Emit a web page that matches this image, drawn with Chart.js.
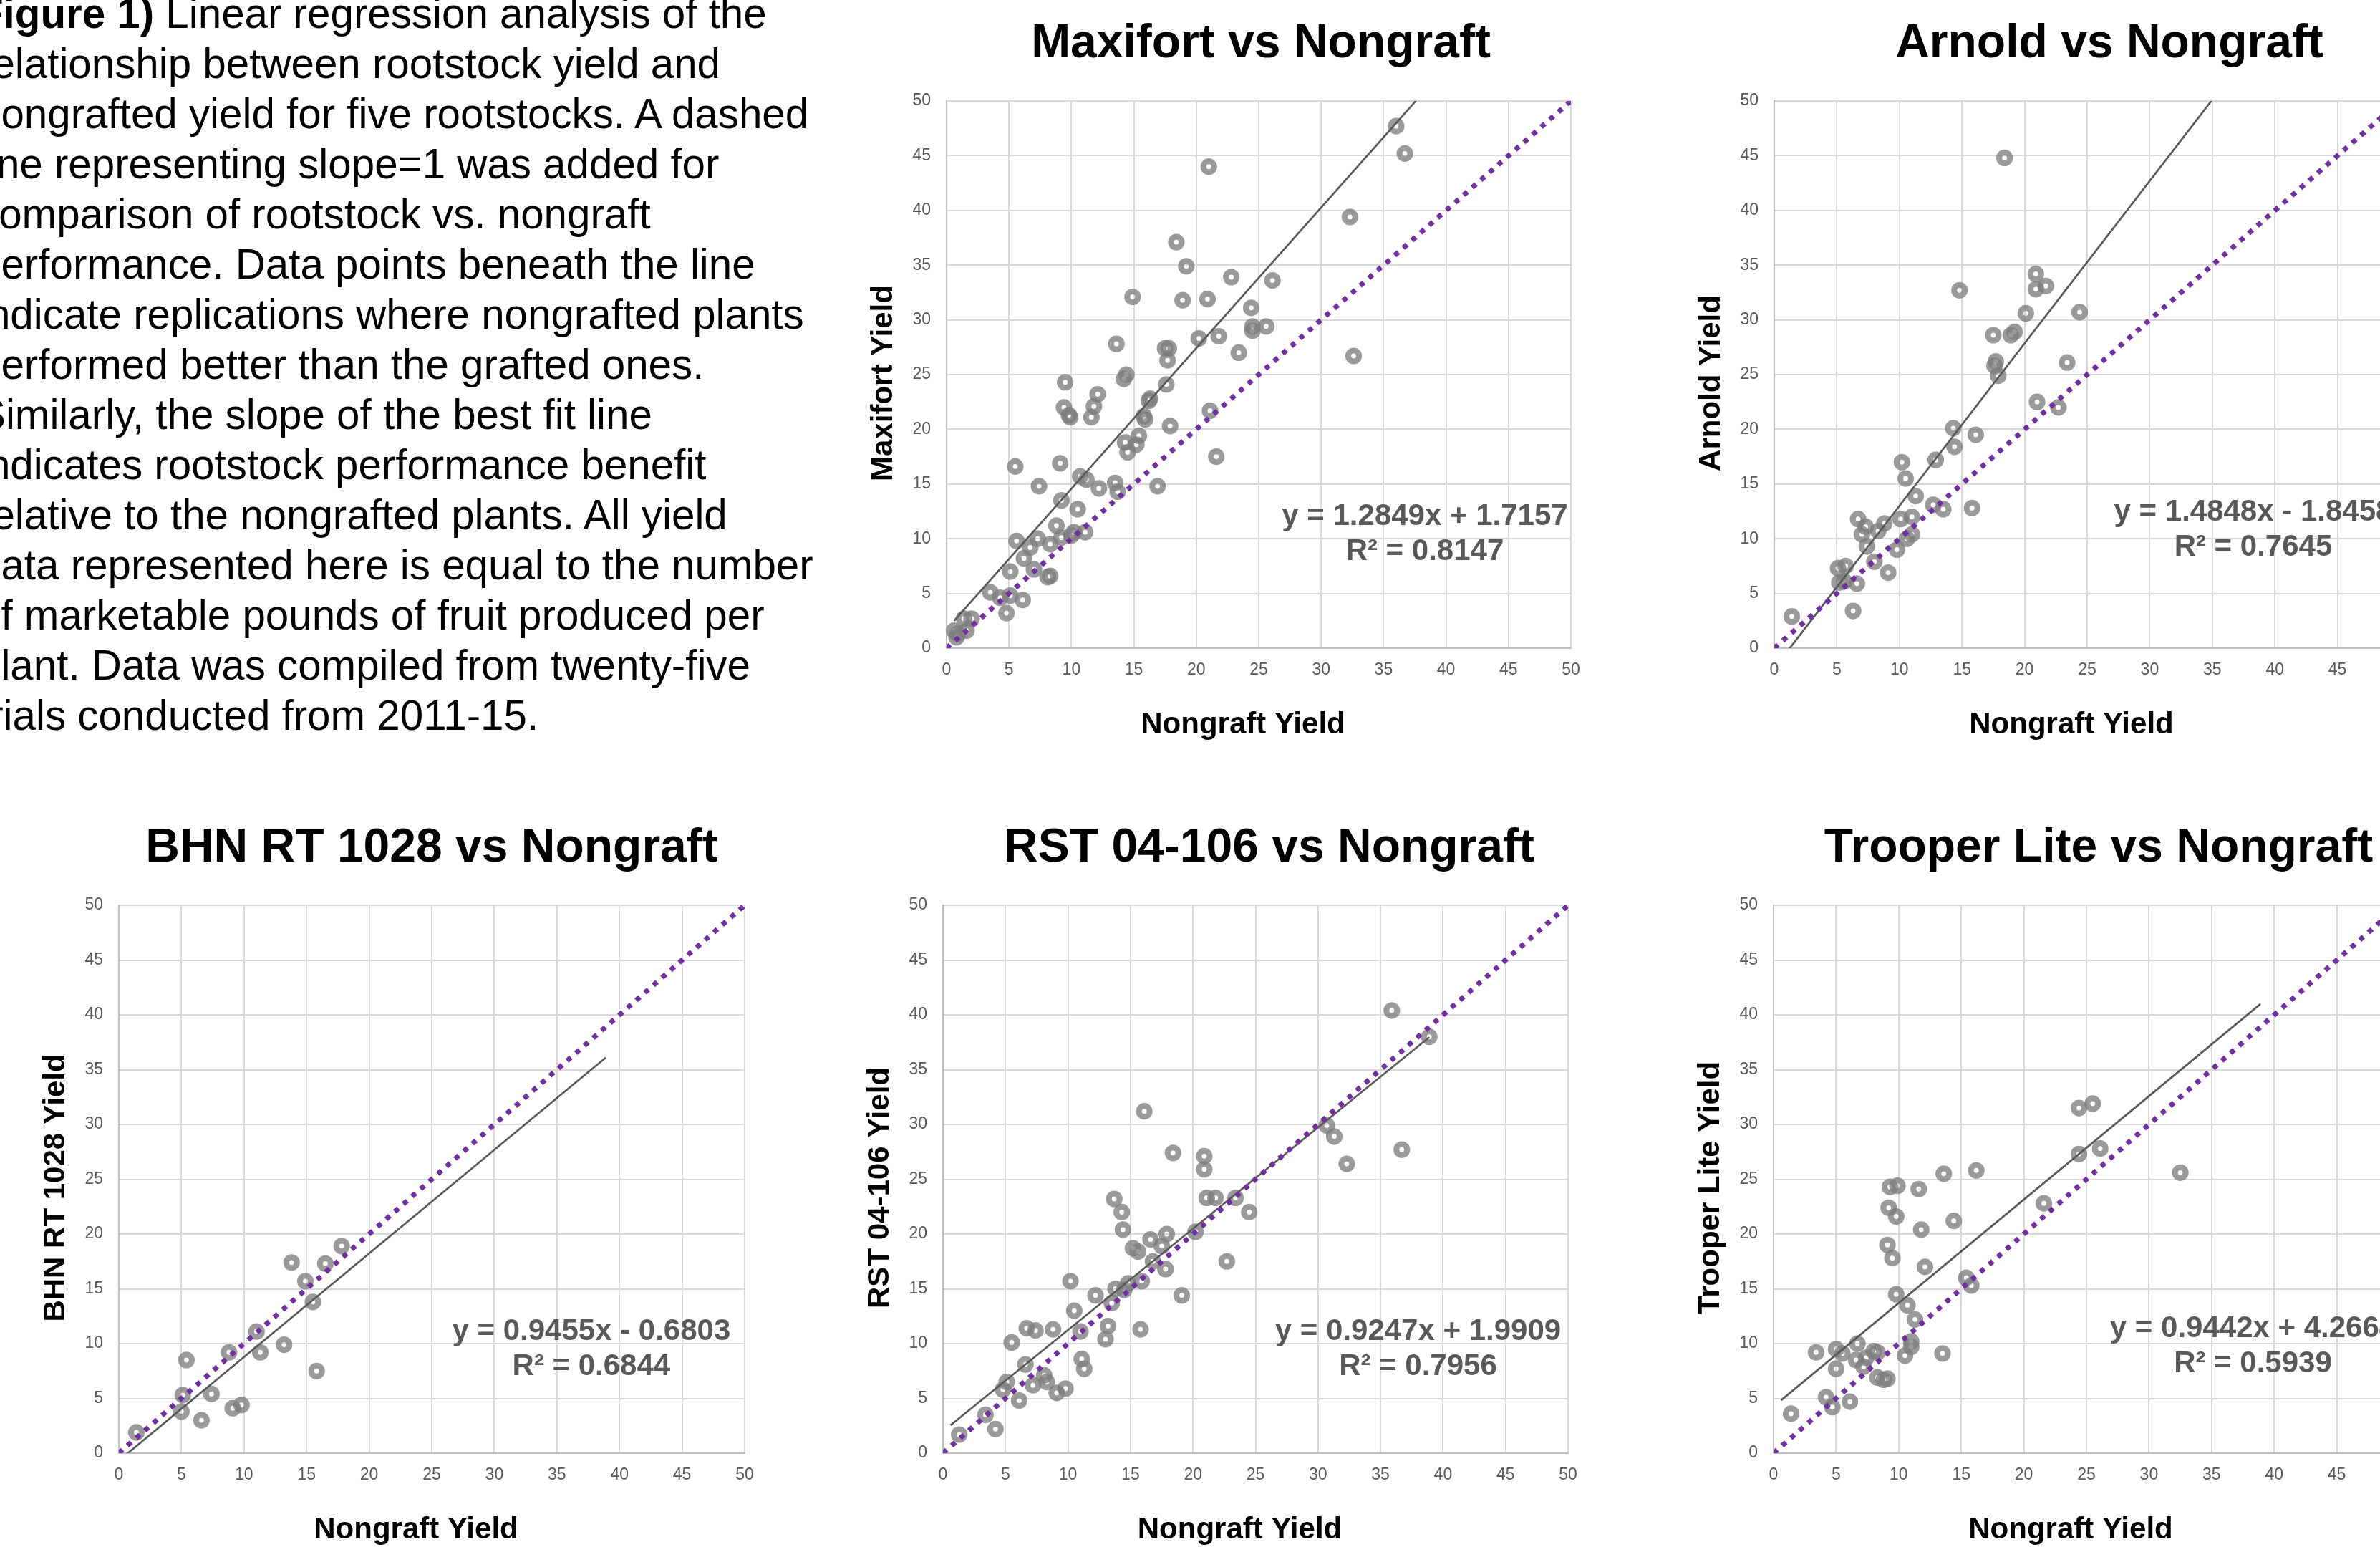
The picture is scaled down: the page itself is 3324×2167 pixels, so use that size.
<!DOCTYPE html>
<html>
<head>
<meta charset="utf-8">
<script src="https://cdn.jsdelivr.net/npm/chart.js@4.4.1/dist/chart.umd.min.js"></script>
<style>
html,body{margin:0;padding:0;width:3324px;height:2167px;overflow:hidden;background:#fff;position:relative}
#caption{position:absolute;left:-31px;top:-16px;font-family:"Liberation Sans",Arial,sans-serif;font-size:58.3px;line-height:70px;color:#000;white-space:nowrap}
canvas{position:absolute}
</style>
</head>
<body>
<div id="caption"><b>Figure 1)</b> Linear regression analysis of the<br>relationship between rootstock yield and<br>nongrafted yield for five rootstocks. A dashed<br>line representing slope=1 was added for<br>comparison of rootstock vs. nongraft<br>performance. Data points beneath the line<br>indicate replications where nongrafted plants<br>performed better than the grafted ones.<br>Similarly, the slope of the best fit line<br>indicates rootstock performance benefit<br>relative to the nongrafted plants. All yield<br>data represented here is equal to the number<br>of marketable pounds of fruit produced per<br>plant. Data was compiled from twenty-five<br>trials conducted from 2011-15.</div>
<canvas id="cMax"></canvas>
<canvas id="cArn"></canvas>
<canvas id="cBhn"></canvas>
<canvas id="cRst"></canvas>
<canvas id="cTro"></canvas>
<script>
// ---------- DATA ----------
const tickValues = [0, 5, 10, 15, 20, 25, 30, 35, 40, 45, 50];

const maxifortX = [36.0, 36.7, 21.0, 32.3, 32.6, 18.4, 19.2, 22.8, 26.1, 14.9, 18.9, 20.9, 24.4, 24.5, 25.6, 24.5, 20.2, 21.8, 23.4, 13.6, 17.5, 17.8, 17.7, 17.6, 14.4, 14.2, 9.5, 16.3, 16.2, 12.1, 11.8, 9.4, 9.8, 9.9, 11.6, 15.8, 15.9, 21.1, 17.9, 14.3, 15.4, 15.2, 14.5, 21.6, 5.5, 9.1, 7.4, 16.9, 10.7, 11.2, 12.2, 13.5, 13.7, 9.2, 10.5, 8.8, 5.6, 7.3, 6.7, 6.2, 7.0, 5.1, 8.3, 9.2, 10.2, 10.0, 11.1, 8.1, 8.3, 3.5, 4.3, 5.1, 6.1, 4.8, 0.6, 1.4, 2.0, 1.6, 0.8, 0.9];
const maxifortY = [47.7, 45.2, 44.0, 39.4, 26.7, 37.1, 34.9, 33.9, 33.6, 32.1, 31.8, 31.9, 31.1, 29.4, 29.4, 29.0, 28.3, 28.5, 27.0, 27.8, 27.4, 27.4, 26.3, 24.1, 25.0, 24.6, 24.3, 22.8, 22.6, 23.2, 22.1, 22.0, 21.3, 21.1, 21.1, 21.2, 20.9, 21.7, 20.3, 18.8, 19.4, 18.6, 17.9, 17.5, 16.6, 16.9, 14.8, 14.8, 15.7, 15.4, 14.6, 15.1, 14.3, 13.5, 12.7, 11.2, 9.8, 10.0, 9.2, 8.2, 7.2, 7.0, 9.5, 10.1, 10.6, 10.3, 10.6, 6.5, 6.6, 5.1, 4.6, 4.8, 4.4, 3.2, 1.6, 2.7, 2.7, 1.6, 1.0, 1.3];

const arnoldX = [18.4, 14.8, 20.9, 20.9, 21.7, 20.1, 24.4, 17.5, 18.9, 19.2, 17.7, 17.6, 17.9, 23.4, 21.0, 22.7, 14.3, 14.4, 16.1, 12.9, 10.2, 10.5, 11.3, 12.7, 13.5, 15.8, 6.7, 8.8, 10.1, 11.0, 7.3, 7.0, 8.3, 10.6, 11.0, 7.4, 9.8, 8.0, 9.1, 5.1, 5.7, 5.2, 5.6, 6.6, 6.3, 1.4];
const arnoldY = [44.8, 32.7, 34.2, 32.8, 33.1, 30.6, 30.7, 28.6, 28.6, 28.9, 26.2, 25.8, 24.9, 26.1, 22.5, 22.0, 20.1, 18.4, 19.5, 17.2, 17.0, 15.5, 13.9, 13.1, 12.7, 12.8, 11.8, 11.4, 11.8, 12.0, 11.1, 10.4, 10.7, 10.0, 10.4, 9.3, 9.0, 7.9, 6.9, 7.3, 7.5, 6.0, 6.1, 5.9, 3.4, 2.9];

const bhnX = [1.4, 5.4, 5.1, 5.0, 6.6, 7.4, 8.8, 9.1, 9.8, 11.0, 11.3, 13.2, 13.8, 14.9, 15.5, 16.5, 15.8, 17.8];
const bhnY = [1.9, 8.5, 5.3, 3.8, 3.0, 5.4, 9.2, 4.1, 4.4, 11.1, 9.2, 9.9, 17.4, 15.7, 13.8, 17.3, 7.5, 18.9];

const rstX = [35.9, 38.9, 30.7, 31.3, 32.3, 36.7, 16.1, 18.4, 20.9, 20.9, 21.1, 21.8, 23.4, 24.5, 22.7, 13.7, 14.3, 14.4, 20.2, 17.9, 16.6, 15.2, 15.6, 17.5, 16.8, 17.8, 15.9, 14.8, 13.8, 14.5, 13.5, 12.2, 19.1, 13.2, 13.0, 15.8, 10.2, 10.5, 11.0, 11.1, 11.3, 6.7, 7.4, 8.8, 5.5, 6.6, 8.1, 8.3, 7.2, 9.8, 9.1, 5.1, 4.8, 6.1, 3.4, 4.2, 1.3];
const rstY = [40.4, 38.0, 29.9, 28.9, 26.4, 27.7, 31.2, 27.4, 27.1, 25.9, 23.3, 23.3, 23.3, 22.0, 17.5, 23.2, 22.0, 20.4, 20.2, 20.0, 19.5, 18.7, 18.4, 18.9, 17.5, 16.8, 15.7, 15.5, 15.0, 14.9, 13.7, 14.4, 14.4, 11.6, 10.4, 11.3, 15.7, 13.0, 11.1, 8.6, 7.7, 11.4, 11.2, 11.3, 10.1, 8.1, 7.1, 6.5, 6.2, 5.9, 5.5, 6.5, 5.8, 4.8, 3.5, 2.2, 1.7];

const trooperX = [24.4, 25.5, 24.4, 26.1, 32.5, 21.6, 16.2, 13.6, 14.4, 9.3, 9.9, 11.6, 9.2, 9.8, 11.8, 9.1, 9.5, 12.1, 15.4, 15.8, 9.8, 10.7, 11.3, 11.0, 11.0, 10.5, 13.5, 3.4, 5.0, 5.5, 6.7, 6.6, 7.4, 7.2, 8.0, 8.3, 5.0, 8.3, 8.8, 9.1, 4.2, 4.7, 6.1, 1.4];
const trooperY = [31.5, 31.9, 27.3, 27.8, 25.6, 22.8, 25.8, 25.5, 21.2, 24.3, 24.4, 24.1, 22.4, 21.6, 20.4, 19.0, 17.8, 17.0, 16.0, 15.3, 14.5, 13.5, 12.2, 10.2, 9.7, 8.9, 9.1, 9.2, 9.5, 9.1, 10.0, 8.5, 8.7, 7.9, 9.3, 9.2, 7.7, 6.9, 6.7, 6.8, 5.1, 4.2, 4.7, 3.6];

// best-fit line end points
const trendX = [0.6, 38.9];
const maxifortTrendY = [2.49, 51.70];
const arnoldTrendY = [-0.95, 55.91];
const bhnTrendY = [-0.11, 36.10];
const rstTrendY = [2.55, 37.96];
const trooperTrendY = [4.83, 40.99];

// slope = 1 reference line
const refX = [0, 50];
const refY = [0, 50];

const maxifortEq = ['y = 1.2849x + 1.7157', 'R\u00B2 = 0.8147'];
const arnoldEq = ['y = 1.4848x - 1.8458', 'R\u00B2 = 0.7645'];
const bhnEq = ['y = 0.9455x - 0.6803', 'R\u00B2 = 0.6844'];
const rstEq = ['y = 0.9247x + 1.9909', 'R\u00B2 = 0.7956'];
const trooperEq = ['y = 0.9442x + 4.2664', 'R\u00B2 = 0.5939'];

// ---------- RENDERING ----------
Chart.defaults.font.family = "'Liberation Sans', Arial, sans-serif";

const pts = (xs, ys) => xs.map((x, i) => ({x: x, y: ys[i]}));

const eqPlugin = {
  id: 'eqText',
  afterDatasetsDraw(chart, args, opts) {
    const {ctx} = chart;
    const xs = chart.scales.x, ys = chart.scales.y;
    const px = xs.getPixelForValue(opts.x);
    const py = ys.getPixelForValue(opts.y);
    ctx.save();
    ctx.font = "bold 42px 'Liberation Sans', Arial, sans-serif";
    ctx.fillStyle = '#595959';
    ctx.textAlign = 'center';
    ctx.textBaseline = 'alphabetic';
    opts.lines.forEach((t, i) => ctx.fillText(t, px, py + i * 49));
    ctx.restore();
  }
};

// nudges the chart title horizontally (the original titles are not exactly centred on the plot)
const titleShiftPlugin = {
  id: 'titleShift',
  afterLayout(chart, args, opts) {
    const tb = chart.titleBlock;
    if (tb && opts && opts.dx) { tb.left += opts.dx; tb.right += opts.dx; }
  }
};

// nudges the axis titles a little (as in the original)
const axisTitleShiftPlugin = {
  id: 'axisTitleShift',
  afterUpdate(chart, args, opts) {
    const shifts = {x: [opts.xDx || 0, 0], y: [0, opts.yDy || 0]};
    Object.keys(shifts).forEach(id => {
      const s = chart.scales[id];
      if (!s || s._titleShifted) return;
      const orig = s.drawTitle;
      const d = shifts[id];
      s.drawTitle = function () {
        const ctx = this.ctx;
        ctx.save();
        ctx.translate(d[0], d[1]);
        orig.apply(this, arguments);
        ctx.restore();
      };
      s._titleShifted = true;
    });
  }
};

const Y_AXIS_W = 130, X_AXIS_H = 140, TITLE_H = 141, RIGHT_PAD = 130;

function makeChart(cfg) {
  const b = cfg.box;
  const cv = document.getElementById(cfg.id);
  const w = Math.round(b.R - b.L + Y_AXIS_W + RIGHT_PAD);
  const h = Math.round(b.B - b.T + TITLE_H + X_AXIS_H);
  cv.width = w; cv.height = h;
  cv.style.width = w + 'px'; cv.style.height = h + 'px';
  cv.style.left = (b.L - Y_AXIS_W) + 'px';
  cv.style.top = (b.T - TITLE_H) + 'px';

  const axisCommon = {
    type: 'linear', min: 0, max: 50,
    grid: {color: '#d9d9d9', lineWidth: 2, drawTicks: false},
    border: {color: '#bfbfbf', width: 2}
  };

  new Chart(cv, {
    type: 'scatter',
    data: {
      datasets: [
        {
          label: 'slope = 1',
          data: pts(refX, refY),
          showLine: true,
          borderColor: '#7030a0',
          borderWidth: 7,
          borderDash: [7, 9],
          borderCapStyle: 'butt',
          pointRadius: 0,
          order: 0
        },
        {
          label: 'Linear fit',
          data: pts(trendX, cfg.trendY),
          showLine: true,
          borderColor: '#595959',
          borderWidth: 2.7,
          pointRadius: 0,
          order: 1
        },
        {
          label: cfg.yTitle,
          data: pts(cfg.xs, cfg.ys),
          showLine: false,
          pointRadius: 7.5,
          pointHoverRadius: 7.5,
          pointBorderWidth: 8.2,
          pointBorderColor: 'rgba(125,125,125,0.78)',
          pointBackgroundColor: 'rgba(255,255,255,0)',
          clip: false,
          order: 2
        }
      ]
    },
    options: {
      responsive: false,
      devicePixelRatio: 1,
      animation: false,
      events: [],
      layout: {padding: {left: 0, right: RIGHT_PAD, top: 0, bottom: 0}},
      plugins: {
        legend: {display: false},
        tooltip: {enabled: false},
        title: {
          display: true, text: cfg.title, color: '#000',
          fullSize: false,
          font: {size: 66, weight: 'bold'},
          padding: {top: 22, bottom: 39.8}
        },
        titleShift: {dx: cfg.titleDx},
        axisTitleShift: {xDx: -22, yDy: 12},
        eqText: {x: cfg.eq.x, y: cfg.eq.y, lines: cfg.eq.lines}
      },
      scales: {
        x: Object.assign({}, axisCommon, {
          position: 'bottom',
          afterBuildTicks: (s) => { s.ticks = tickValues.map(v => ({value: v})); },
          ticks: {color: '#595959', font: {size: 23}, padding: 17, maxRotation: 0, autoSkip: false},
          title: {display: true, text: 'Nongraft Yield', color: '#000', font: {size: 42, weight: 'bold'}, padding: {top: 0, bottom: 7}},
          afterFit: (s) => { s.height = X_AXIS_H; }
        }),
        y: Object.assign({}, axisCommon, {
          position: 'left',
          afterBuildTicks: (s) => { s.ticks = tickValues.map(v => ({value: v})); },
          ticks: {color: '#595959', font: {size: 23}, padding: 22, autoSkip: false},
          title: {display: true, text: cfg.yTitle, color: '#000', font: {size: 42, weight: 'bold'}, padding: {top: 17, bottom: 0}},
          afterFit: (s) => { s.width = Y_AXIS_W; }
        })
      }
    },
    plugins: [eqPlugin, titleShiftPlugin, axisTitleShiftPlugin]
  });
}

makeChart({id: 'cMax', box: {L: 1322, R: 2194, T: 141, B: 905}, title: 'Maxifort vs Nongraft', yTitle: 'Maxifort Yield', titleDx: 3,
  xs: maxifortX, ys: maxifortY, trendY: maxifortTrendY, eq: {x: 38.3, y: 11.26, lines: maxifortEq}});
makeChart({id: 'cArn', box: {L: 2478, R: 3352, T: 141, B: 905}, title: 'Arnold vs Nongraft', yTitle: 'Arnold Yield', titleDx: 31,
  xs: arnoldX, ys: arnoldY, trendY: arnoldTrendY, eq: {x: 38.27, y: 11.65, lines: arnoldEq}});
makeChart({id: 'cBhn', box: {L: 166, R: 1040, T: 1264, B: 2029}, title: 'BHN RT 1028 vs Nongraft', yTitle: 'BHN RT 1028 Yield', titleDx: 0,
  xs: bhnX, ys: bhnY, trendY: bhnTrendY, eq: {x: 37.75, y: 10.33, lines: bhnEq}});
makeChart({id: 'cRst', box: {L: 1317, R: 2190, T: 1264, B: 2029}, title: 'RST 04-106 vs Nongraft', yTitle: 'RST 04-106 Yield', titleDx: 19,
  xs: rstX, ys: rstY, trendY: rstTrendY, eq: {x: 38.0, y: 10.33, lines: rstEq}});
makeChart({id: 'cTro', box: {L: 2477, R: 3351, T: 1264, B: 2029}, title: 'Trooper Lite vs Nongraft', yTitle: 'Trooper Lite Yield', titleDx: 17,
  xs: trooperX, ys: trooperY, trendY: trooperTrendY, eq: {x: 38.3, y: 10.59, lines: trooperEq}});
</script>
</body>
</html>
